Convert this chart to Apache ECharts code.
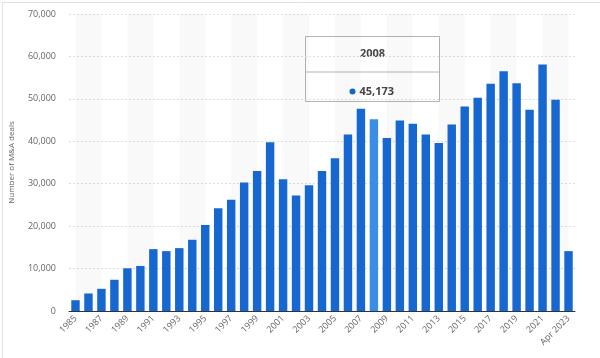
<!DOCTYPE html>
<html><head><meta charset="utf-8">
<script src="https://cdn.jsdelivr.net/npm/echarts@6/dist/echarts.min.js"></script>
<style>html,body{margin:0;padding:0;background:#fff}#c{width:600px;height:358px}</style>
</head><body><div id="c"></div>
<script>
const categories = ['1985','1986','1987','1988','1989','1990','1991','1992','1993','1994','1995','1996','1997','1998','1999','2000','2001','2002','2003','2004','2005','2006','2007','2008','2009','2010','2011','2012','2013','2014','2015','2016','2017','2018','2019','2020','2021','2022','Apr 2023'];
const deals = [2540,4130,5230,7360,10070,10620,14580,14110,14820,16790,20280,24230,26220,30260,33020,39760,31050,27240,29620,33020,36030,41570,47670,45173,40780,44890,44110,41570,39600,43940,48220,50280,53540,56530,53680,47430,58120,49810,14110];
const yTicks = [0,10000,20000,30000,40000,50000,60000,70000];
const highlightCategory = '2008';
const yAxisTitle = 'Number of M&A deals';

const hi = categories.indexOf(highlightCategory);
const barData = deals.map((v,i)=> i===hi ? {value:v, itemStyle:{color:'#3a8ee6'}} : v);
const stripes = [];
for (let i = 0; i + 2 < categories.length; i += 4) stripes.push([{xAxis: categories[i]}, {xAxis: categories[i+2]}]);

const chart = echarts.init(document.getElementById('c'), null, {renderer:'canvas'});
const fmt = v => v.toLocaleString('en-US');
chart.setOption({
  animation:false,
  grid:{left:63, right:25, top:14, bottom:47},
  xAxis:{type:'category', data:categories,
    axisLine:{lineStyle:{color:'#333', width:1}}, axisTick:{show:false},
    axisLabel:{interval:1, rotate:45, color:'#666', fontSize:9, fontFamily:'Open Sans', margin:6}},
  yAxis:{type:'value', min:yTicks[0], max:yTicks[yTicks.length-1], interval:10000,
    name:yAxisTitle, nameLocation:'middle', nameGap:53, nameTextStyle:{color:'#666', fontSize:8, fontFamily:'Open Sans'},
    axisLine:{show:false}, axisTick:{show:false},
    axisLabel:{color:'#666', fontSize:9, fontFamily:'Open Sans', margin:13, formatter:fmt},
    splitLine:{lineStyle:{color:'#dedede', type:[2,2]}}},
  series:[
    {type:'line', data:[], z:1, silent:true,
     markArea:{silent:true, itemStyle:{color:'rgba(0,0,0,0.025)'}, data:stripes}},
    {type:'bar', data:barData, barWidth:'65%', z:3, itemStyle:{color:'#1767d0'}}
  ],
  graphic:[
    {type:'rect', left:0, top:0, shape:{x:0.5,y:0.5,width:599,height:356}, style:{fill:'none', stroke:'#e2e2e2', lineWidth:1}, silent:true},
    {type:'group', left:303, top:36, children:[
      {type:'rect', shape:{x:0,y:0,width:134,height:65}, style:{fill:'#fff', stroke:'#b5b5b5', lineWidth:1}},
      {type:'line', shape:{x1:0,y1:35.5,x2:134,y2:35.5}, style:{stroke:'#b5b5b5', lineWidth:1}},
      {type:'text', x:67, y:17, style:{text:highlightCategory, fill:'#444', font:'bold 11px "Open Sans"', align:'center', verticalAlign:'middle'}},
      {type:'circle', shape:{cx:47, cy:55, r:3}, style:{fill:'#1767d0'}},
      {type:'text', x:54, y:55, style:{text:fmt(deals[hi]), fill:'#444', font:'bold 11px "Open Sans"', align:'left', verticalAlign:'middle'}}
    ]}
  ]
});
</script></body></html>
